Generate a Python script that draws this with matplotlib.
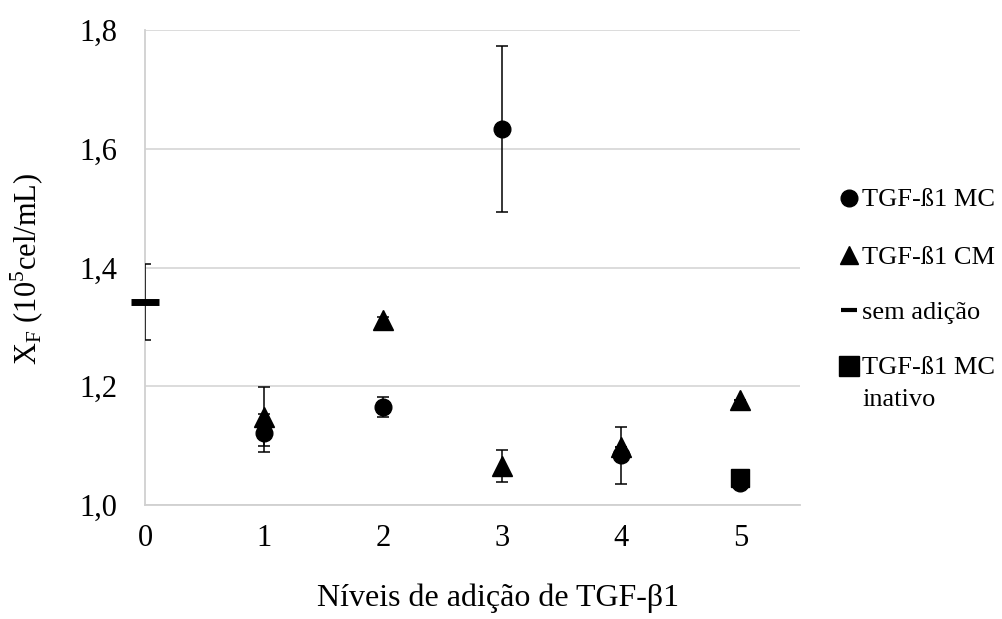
import matplotlib
matplotlib.use("Agg")
import matplotlib.pyplot as plt
from matplotlib.lines import Line2D

plt.rcParams['font.family'] = ['Liberation Serif', 'DejaVu Serif']
plt.rcParams['mathtext.fontset'] = 'custom'
plt.rcParams['mathtext.rm'] = 'Liberation Serif'

# Data
mc_x = [1, 2, 3, 4, 5]
mc_y = [1.121, 1.165, 1.633, 1.084, 1.037]
mc_err = [0.032, 0.017, 0.140, 0.048, 0.0]

cm_x = [1, 2, 3, 4, 5]
cm_y = [1.149, 1.311, 1.065, 1.098, 1.177]
cm_err = [0.050, 0.005, 0.027, 0.0, 0.0]

sem_x = [0]
sem_y = [1.342]
sem_err = [0.064]

inat_x = [5]
inat_y = [1.045]

xticks = [0, 1, 2, 3, 4, 5]
yticks = [1.0, 1.2, 1.4, 1.6, 1.8]
ytick_labels = ["1,0", "1,2", "1,4", "1,6", "1,8"]
legend_labels = ['TGF-ß1 MC', 'TGF-ß1 CM', 'sem adição', 'TGF-ß1 MC\ninativo']

W, H = 1002, 619
fig = plt.figure(figsize=(W / 100, H / 100), dpi=100)
ax = fig.add_axes([145 / W, 1 - 505 / H, 655 / W, 475 / H])

ekw = dict(ecolor='black', elinewidth=1.1, capsize=4.5, capthick=1.1, linestyle='none')
ax.errorbar(mc_x, mc_y, yerr=mc_err, fmt='o', color='black', markersize=12, zorder=3, **ekw)
ax.errorbar(cm_x, cm_y, yerr=cm_err, fmt='^', color='black', markersize=14, zorder=3, **ekw)
ax.errorbar(sem_x, sem_y, yerr=sem_err, fmt='none', zorder=3, **ekw)
ax.plot(sem_x, sem_y, marker='_', color='black', markersize=20, markeredgewidth=5,
        linestyle='none', zorder=4, clip_on=False)
ax.plot(inat_x, inat_y, 's', color='black', markersize=13, zorder=3, linestyle='none')

ax.set_xlim(0, 5.5)
ax.set_ylim(1.0, 1.8)
ax.set_xticks(xticks)
ax.set_yticks(yticks)
ax.set_yticklabels(ytick_labels)
ax.tick_params(axis='both', length=0, labelsize=22)
ax.tick_params(axis='y', pad=20)
ax.tick_params(axis='x', pad=14)
ax.grid(axis='y', color='#d9d9d9', linewidth=1.3)
ax.set_axisbelow(True)
for s in ['top', 'right']:
    ax.spines[s].set_visible(False)
for s in ['left', 'bottom']:
    ax.spines[s].set_color('#d0d0d0')
    ax.spines[s].set_linewidth(1.3)

fig.text(498 / W, 1 - 598 / H, 'Níveis de adição de TGF-β1', fontsize=23,
         ha='center', va='center')
fig.text(27 / W, 1 - 269 / H, r'X$_\mathrm{F}$ (10$^5$cel/mL)', fontsize=22,
         rotation=90, ha='center', va='center')

# Legend (drawn manually)
leg_markers = [dict(marker='o', markersize=12),
               dict(marker='^', markersize=13),
               dict(marker='_', markersize=12, markeredgewidth=3),
               dict(marker='s', markersize=14)]
leg_y = [198, 255, 310, 366]
for kw, yy, lab in zip(leg_markers, leg_y, legend_labels):
    fig.add_artist(Line2D([849 / W], [1 - yy / H], color='black', linestyle='none',
                          transform=fig.transFigure, **kw))
    fig.text(862 / W, 1 - yy / H, lab.split('\n')[0], fontsize=19, ha='left', va='center_baseline')
    if '\n' in lab:
        fig.text(862 / W, 1 - (yy + 32) / H, lab.split('\n')[1], fontsize=19,
                 ha='left', va='center_baseline')

fig.savefig('out.png', dpi=100)
